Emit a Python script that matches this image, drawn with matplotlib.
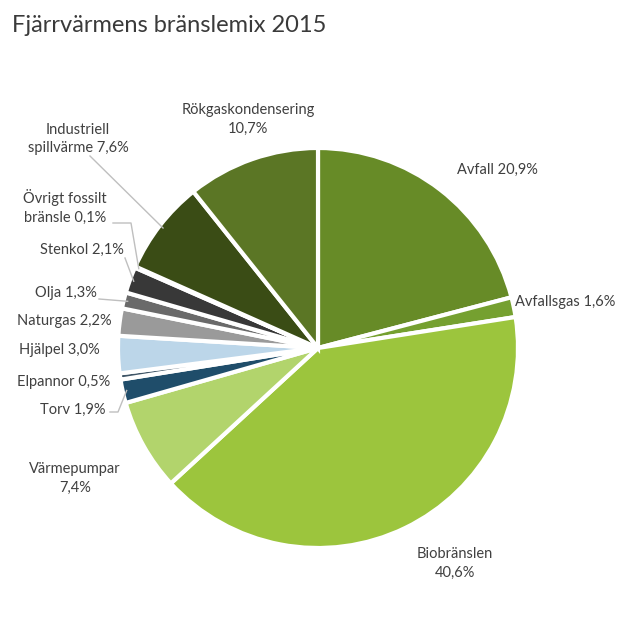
import matplotlib
matplotlib.use('Agg')
import matplotlib.pyplot as plt
import numpy as np

plt.rcParams['font.family'] = ['Lato', 'DejaVu Sans']

# andelar av fjärrvärmens bränslemix 2015 (%)
namn = ['Avfall', 'Avfallsgas', 'Biobränslen', 'Värmepumpar', 'Torv', 'Elpannor',
        'Hjälpel', 'Naturgas', 'Olja', 'Stenkol', 'Övrigt fossilt bränsle',
        'Industriell spillvärme', 'Rökgaskondensering']
andel = [20.9, 1.6, 40.6, 7.4, 1.9, 0.5, 3.0, 2.2, 1.3, 2.1, 0.1, 7.6, 10.7]
etiketter = ['Avfall 20,9%', 'Avfallsgas 1,6%', 'Biobränslen\n40,6%', 'Värmepumpar\n7,4%',
             'Torv 1,9%', 'Elpannor 0,5%', 'Hjälpel 3,0%', 'Naturgas 2,2%', 'Olja 1,3%',
             'Stenkol 2,1%', 'Övrigt fossilt\nbränsle 0,1%', 'Industriell\nspillvärme 7,6%',
             'Rökgaskondensering\n10,7%']
farger = ['#678b27', '#75a030', '#9cc53d', '#b2d46c', '#1f4d6a', '#3f5566',
          '#bcd6e9', '#9a9a9a', '#6a6a6a', '#383838', '#111111', '#3a4c15', '#5b7625']

# etikettplacering i bildpixlar (x, y, ha), y räknas uppifrån
lab_pos = [(497, 170, 'center'), (515, 302, 'left'), (455, 563, 'center'),
           (75, 478, 'center'), (106, 410, 'right'), (110, 382, 'right'),
           (100, 350, 'right'), (112, 321, 'right'), (97, 293, 'right'),
           (124, 250, 'right'), (65, 207, 'center'), (78, 139, 'center'),
           (248, 119, 'center')]
# ledarlinjer: startpunkt och ev. knäpunkt
leder = {11: [(90, 156)], 10: [(113, 223), (131, 223)], 9: [(125, 258)],
         8: [(99, 299)], 4: [(110, 412), (118, 412)]}

W = 633
cx, cy, r = 318, 348, 200

fig = plt.figure(figsize=(6.33, 6.33), dpi=100)
ax = fig.add_axes([0, 0, 1, 1])

wedges, _ = ax.pie(andel, colors=farger, startangle=90, counterclock=False,
                   center=(cx, W - cy), radius=r, frame=True,
                   wedgeprops=dict(edgecolor='white', linewidth=3))
ax.set_xlim(0, W)
ax.set_ylim(0, W)
ax.set_aspect('equal')
ax.axis('off')

for i, (x, y, ha) in enumerate(lab_pos):
    ax.text(x, W - y, etiketter[i], ha=ha, va='center', fontsize=10.5,
            color='#404040', linespacing=1.45)
    if i in leder:
        w = wedges[i]
        ang = np.deg2rad((w.theta1 + w.theta2) / 2)
        ex = cx + (r - 4) * np.cos(ang)
        ey = (W - cy) + (r - 4) * np.sin(ang)
        pts = leder[i]
        xs = [p[0] for p in pts] + [ex]
        ys = [W - p[1] for p in pts] + [ey]
        ax.plot(xs, ys, color='#bfbfbf', lw=1.0)

ax.text(12, W - 25, 'Fjärrvärmens bränslemix 2015', ha='left', va='center',
        fontsize=17, color='#3a3a3a')

plt.savefig('out.png', dpi=100)
